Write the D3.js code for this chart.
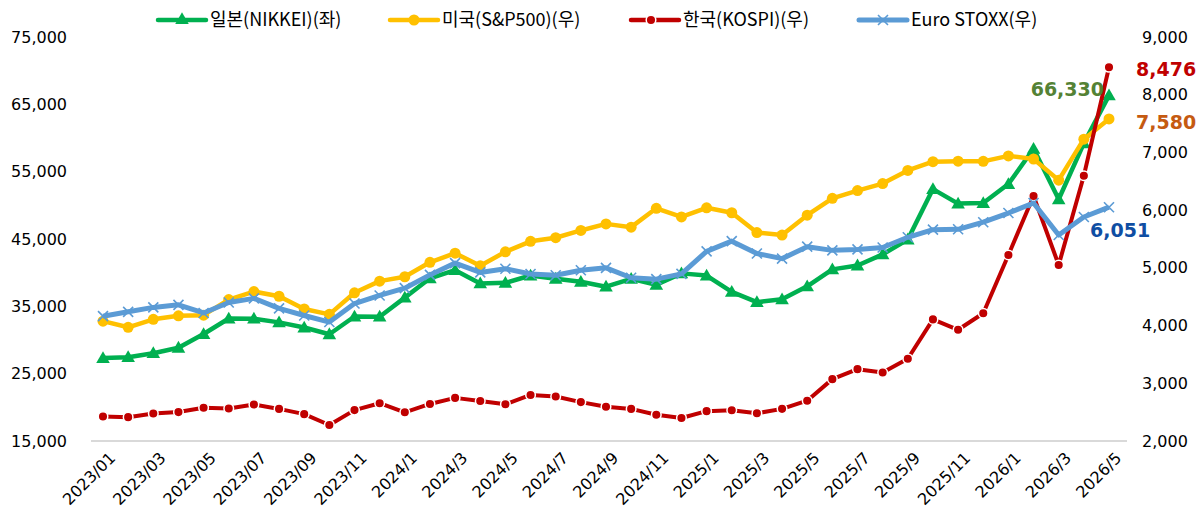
<!DOCTYPE html>
<meta charset="utf-8">
<script src="https://d3js.org/d3.v7.min.js"></script>
<style>
  body { margin: 0; background: #fff; }
</style>
<div id="chart"></div>
<script>
  // months on the x axis
  var months = ["2023/01","2023/02","2023/03","2023/04","2023/05","2023/06","2023/07","2023/08","2023/09","2023/10","2023/11","2023/12",
                "2024/1","2024/2","2024/3","2024/4","2024/5","2024/6","2024/7","2024/8","2024/9","2024/10","2024/11","2024/12",
                "2025/1","2025/2","2025/3","2025/4","2025/5","2025/6","2025/7","2025/8","2025/9","2025/10","2025/11","2025/12",
                "2026/1","2026/2","2026/3","2026/4","2026/5"];

  // left axis
  var nikkei = [27327, 27446, 28041, 28856, 30888, 33189, 33172, 32619, 31858, 30859, 33487, 33464,
                36287, 39166, 40369, 38406, 38488, 39583, 39102, 38648, 37920, 39081, 38208, 39895,
                39572, 37156, 35618, 36045, 37965, 40487, 41070, 42718, 44933, 52411, 50254, 50339,
                53170, 58400, 50900, 59200, 66330];
  // right axis
  var sp500 = [4077, 3970, 4109, 4169, 4180, 4450, 4589, 4508, 4288, 4194, 4568, 4770,
               4846, 5096, 5254, 5036, 5278, 5460, 5522, 5648, 5762, 5705, 6032, 5882,
               6041, 5955, 5612, 5569, 5912, 6205, 6339, 6460, 6688, 6840, 6849, 6845,
               6940, 6886, 6520, 7230, 7580];
  var kospi = [2425, 2413, 2477, 2501, 2577, 2564, 2633, 2556, 2465, 2277, 2535, 2655,
               2497, 2642, 2747, 2692, 2637, 2798, 2770, 2674, 2593, 2556, 2456, 2399,
               2517, 2532, 2481, 2557, 2698, 3072, 3245, 3186, 3425, 4107, 3927, 4214,
               5224, 6245, 5050, 6597, 8476];
  var eurostoxx = [4163, 4238, 4315, 4359, 4218, 4399, 4471, 4297, 4175, 4061, 4382, 4522,
                   4648, 4878, 5083, 4921, 4984, 4894, 4872, 4958, 5000, 4828, 4804, 4896,
                   5286, 5463, 5248, 5160, 5367, 5303, 5320, 5352, 5530, 5662, 5668, 5791,
                   5950, 6124, 5569, 5881, 6051];

  var leftTicks = [15000, 25000, 35000, 45000, 55000, 65000, 75000];
  var rightTicks = [2000, 3000, 4000, 5000, 6000, 7000, 8000, 9000];
  var xTicks = months.filter(function(d, i) { return i % 2 == 0; });
  var legendNames = ["일본(NIKKEI)(좌)", "미국(S&P500)(우)", "한국(KOSPI)(우)", "Euro STOXX(우)"];

  var W = 1204, H = 515;
  var numFont = "'DejaVu Sans', Verdana, sans-serif";
  var krFont = "'Noto Sans CJK KR', 'Noto Sans', sans-serif";

  var svg = d3.select("#chart").append("svg")
    .attr("width", W).attr("height", H);

  var x = d3.scalePoint().domain(months).range([103, 1109]);
  var yL = d3.scaleLinear().domain([15000, 75000]).range([441, 37]);
  var yR = d3.scaleLinear().domain([2000, 9000]).range([441, 37]);

  // baseline
  svg.append("line")
    .attr("x1", 91).attr("x2", 1127)
    .attr("y1", yL(15000)).attr("y2", yL(15000))
    .attr("stroke", "#d9d9d9").attr("stroke-width", 2);

  // left axis
  var gl = svg.append("g").attr("transform", "translate(69,0)")
    .call(d3.axisLeft(yL).tickValues(leftTicks).tickSize(0).tickPadding(2).tickFormat(d3.format(",")));
  gl.select(".domain").remove();
  gl.selectAll("text").style("font-family", numFont).style("font-size", "16px").style("fill", "#000");

  // right axis
  var gr = svg.append("g").attr("transform", "translate(1140,0)")
    .call(d3.axisRight(yR).tickValues(rightTicks).tickSize(0).tickPadding(2).tickFormat(d3.format(",")));
  gr.select(".domain").remove();
  gr.selectAll("text").style("font-family", numFont).style("font-size", "16px").style("fill", "#000");

  // x axis
  var gx = svg.append("g").attr("transform", "translate(0,449)")
    .call(d3.axisBottom(x).tickValues(xTicks).tickSize(0));
  gx.select(".domain").remove();
  gx.selectAll("text")
    .style("font-family", numFont).style("font-size", "16px").style("fill", "#000")
    .style("text-anchor", "end")
    .attr("dy", "0.35em").attr("y", 0)
    .attr("transform", "translate(9,6)rotate(-45)");

  function lineFor(scale) {
    return d3.line().x(function(d, i) { return x(months[i]); }).y(function(d) { return scale(d); });
  }

  var triangle = d3.symbol().type(d3.symbolTriangle).size(80);

  function drawCross(g, cx, cy) {
    g.append("path")
      .attr("d", "M" + (cx - 5) + "," + (cy - 5) + "L" + (cx + 5) + "," + (cy + 5) +
                 "M" + (cx - 5) + "," + (cy + 5) + "L" + (cx + 5) + "," + (cy - 5))
      .attr("stroke", "#5B9BD5").attr("stroke-width", 1.6).attr("fill", "none");
  }

  // Nikkei (left)
  svg.append("path").datum(nikkei)
    .attr("d", lineFor(yL)).attr("fill", "none")
    .attr("stroke", "#00B050").attr("stroke-width", 4.5).attr("stroke-linejoin", "round");
  svg.selectAll(".nk").data(nikkei).enter().append("path")
    .attr("d", triangle)
    .attr("transform", function(d, i) { return "translate(" + x(months[i]) + "," + (yL(d) + 1) + ")"; })
    .attr("fill", "#00B050");

  // S&P500 (right)
  svg.append("path").datum(sp500)
    .attr("d", lineFor(yR)).attr("fill", "none")
    .attr("stroke", "#FFC000").attr("stroke-width", 4.5).attr("stroke-linejoin", "round");
  svg.selectAll(".sp").data(sp500).enter().append("circle")
    .attr("cx", function(d, i) { return x(months[i]); })
    .attr("cy", function(d) { return yR(d); })
    .attr("r", 5.5).attr("fill", "#FFC000");

  // KOSPI (right)
  svg.append("path").datum(kospi)
    .attr("d", lineFor(yR)).attr("fill", "none")
    .attr("stroke", "#C00000").attr("stroke-width", 4).attr("stroke-linejoin", "round");
  svg.selectAll(".ks").data(kospi).enter().append("circle")
    .attr("cx", function(d, i) { return x(months[i]); })
    .attr("cy", function(d) { return yR(d); })
    .attr("r", 4.8).attr("fill", "#C00000")
    .attr("stroke", "#fff").attr("stroke-width", 1.5);

  // Euro STOXX (right)
  svg.append("path").datum(eurostoxx)
    .attr("d", lineFor(yR)).attr("fill", "none")
    .attr("stroke", "#5B9BD5").attr("stroke-width", 5).attr("stroke-linejoin", "round");
  var esg = svg.append("g");
  eurostoxx.forEach(function(d, i) { drawCross(esg, x(months[i]), yR(d)); });

  // end value labels
  var last = months.length - 1;
  function endLabel(txt, color, lx, ly, anchor) {
    svg.append("text").text(txt)
      .attr("x", lx).attr("y", ly)
      .attr("text-anchor", anchor)
      .style("font-family", numFont).style("font-size", "19px").style("font-weight", "bold")
      .style("fill", color);
  }
  endLabel(d3.format(",")(kospi[last]), "#C00000", 1136, yR(kospi[last]) + 9, "start");
  endLabel(d3.format(",")(nikkei[last]), "#548235", 1104, yL(nikkei[last]) + 1, "end");
  endLabel(d3.format(",")(sp500[last]), "#C55A11", 1136, yR(sp500[last]) + 10, "start");
  endLabel(d3.format(",")(eurostoxx[last]), "#0F4EA3", 1090, yR(eurostoxx[last]) + 30, "start");

  // legend
  var legendX = [158, 390, 631, 859];
  var legendColors = ["#00B050", "#FFC000", "#C00000", "#5B9BD5"];
  var lg = svg.append("g").attr("transform", "translate(0,20)");
  legendNames.forEach(function(name, i) {
    var lx = legendX[i];
    lg.append("line").attr("x1", lx).attr("x2", lx + 48).attr("y1", 0).attr("y2", 0)
      .attr("stroke", legendColors[i]).attr("stroke-width", i == 3 ? 5 : 4.5).attr("stroke-linecap", "round");
    if (i == 0) {
      lg.append("path").attr("d", triangle).attr("transform", "translate(" + (lx + 24) + ",0)").attr("fill", legendColors[i]);
    } else if (i == 1) {
      lg.append("circle").attr("cx", lx + 24).attr("cy", 0).attr("r", 5.5).attr("fill", legendColors[i]);
    } else if (i == 2) {
      lg.append("circle").attr("cx", lx + 20).attr("cy", 0).attr("r", 4.8).attr("fill", legendColors[i])
        .attr("stroke", "#fff").attr("stroke-width", 1.5);
    } else {
      drawCross(lg, lx + 24, 0);
    }
    lg.append("text").text(name)
      .attr("x", lx + 52).attr("y", 0).attr("dy", "0.35em")
      .style("font-family", krFont).style("font-size", "18px").style("fill", "#000");
  });
</script>
